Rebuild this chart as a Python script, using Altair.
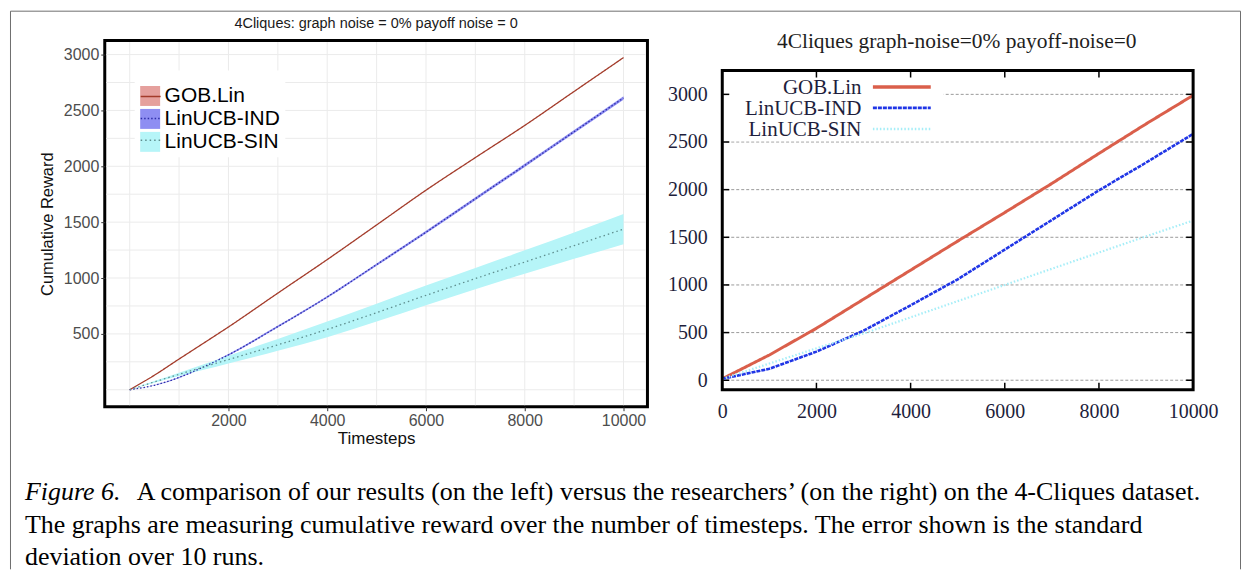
import altair as alt
import pandas as pd

SERIES = ["GOB.Lin", "LinUCB-IND", "LinUCB-SIN"]

# ---------------- left panel (our results: mean and std over 10 runs) ----------------
LEFT_STEPS = [0, 500, 1000, 1500, 2000, 3000, 4000, 5000, 6000, 7000, 8000, 9000, 10000]
LEFT_GOB = [0, 130, 275, 418, 562, 865, 1165, 1475, 1786, 2078, 2366, 2670, 2973]
LEFT_IND = [0, 40, 110, 205, 312, 565, 830, 1120, 1410, 1710, 2008, 2310, 2612]
LEFT_SIN = [0, 70, 138, 204, 270, 402, 540, 690, 845, 995, 1143, 1290, 1438]
LEFT_GOB_SD = [0, 0, 0, 0, 0, 0, 0, 0, 0, 0, 0, 0, 0]
LEFT_IND_SD = [0, 3, 5, 6, 7, 9, 10, 11, 12, 13, 14, 15, 16]
LEFT_SIN_SD = [0, 8, 15, 25, 35, 52, 70, 80, 88, 95, 105, 118, 135]

LEFT_TITLE = "4Cliques: graph noise = 0% payoff noise = 0"
LEFT_X_LABELS = [2000, 4000, 6000, 8000, 10000]
LEFT_Y_LABELS = [500, 1000, 1500, 2000, 2500, 3000]
LEFT_X_GRID = [0, 1000, 2000, 3000, 4000, 5000, 6000, 7000, 8000, 9000, 10000]
LEFT_Y_GRID = [0, 250, 500, 750, 1000, 1250, 1500, 1750, 2000, 2250, 2500, 2750, 3000]
LEFT_BAND_COLORS = ["#E5A09D", "#8E8EF2", "#B6F5F8"]
LEFT_LINE_COLORS = ["#A33B2A", "#2E2EA8", "#5E8E8E"]
LEFT_LINE_DASH = [[1, 0], [1.5, 2], [1.5, 3]]

# ---------------- right panel (researchers' results) ----------------
RIGHT_STEPS = [0, 1000, 2000, 3000, 4000, 5000, 6000, 7000, 8000, 9000, 10000]
RIGHT_GOB = [15, 265, 545, 850, 1155, 1460, 1760, 2065, 2380, 2690, 2990]
RIGHT_IND = [15, 120, 300, 520, 786, 1059, 1371, 1682, 1993, 2284, 2585]
RIGHT_SIN = [15, 175, 335, 490, 660, 830, 1000, 1170, 1340, 1510, 1676]

RIGHT_TITLE = "4Cliques graph-noise=0% payoff-noise=0"
RIGHT_X_LABELS = [0, 2000, 4000, 6000, 8000, 10000]
RIGHT_Y_LABELS = [0, 500, 1000, 1500, 2000, 2500, 3000]
RIGHT_X_TICKS = [2000, 4000, 6000, 8000]
RIGHT_LINE_COLORS = ["#DA5F4B", "#2036E6", "#A6EEF8"]
RIGHT_LINE_DASH = [[1, 0], [4, 1], [1.5, 2]]
RIGHT_LINE_WIDTH = [3, 2.2, 2]

CAPTION_LEAD = "Figure 6."
CAPTION_LINE1 = "A comparison of our results (on the left) versus the researchers\u2019 (on the right) on the 4-Cliques dataset."
CAPTION_LINE2 = "The graphs are measuring cumulative reward over the number of timesteps.  The error shown is the standard"
CAPTION_LINE3 = "deviation over 10 runs."

# ---------------- tables ----------------
rows = []
for name, vals, sds in zip(SERIES, [LEFT_GOB, LEFT_IND, LEFT_SIN], [LEFT_GOB_SD, LEFT_IND_SD, LEFT_SIN_SD]):
    for s, v, d in zip(LEFT_STEPS, vals, sds):
        rows.append({"step": s, "value": v, "lo": v - d, "hi": v + d, "series": name, "series_l": name})
left_df = pd.DataFrame(rows)

rrows = []
for name, vals in zip(SERIES, [RIGHT_GOB, RIGHT_IND, RIGHT_SIN]):
    for s, v in zip(RIGHT_STEPS, vals):
        rrows.append({"step": s, "value": v, "series_r": name})
right_df = pd.DataFrame(rrows)

one = pd.DataFrame({"k": [0]})

# ---------------- left chart ----------------
LW, LH = 544, 367
lx = alt.Scale(domain=[-505, 10485], nice=False, zero=False)
ly = alt.Scale(domain=[-152, 3125], nice=False, zero=False)
SANS = "Liberation Sans"
SERIF = "Liberation Serif"

lx_axis = alt.Axis(values=LEFT_X_LABELS, format="d", title="Timesteps", grid=False, domain=False,
                   tickColor="#333333", tickSize=4, tickWidth=1,
                   labelFont=SANS, labelFontSize=16, labelColor="#4D4D4D", labelPadding=2,
                   labelFlush=False, labelOverlap=False,
                   titleFont=SANS, titleFontSize=17, titleFontWeight="normal", titleColor="#111111",
                   titlePadding=2)
ly_axis = alt.Axis(values=LEFT_Y_LABELS, format="d", title="Cumulative Reward", grid=False, domain=False,
                   tickColor="#333333", tickSize=4, tickWidth=1,
                   labelFont=SANS, labelFontSize=16, labelColor="#4D4D4D", labelPadding=2,
                   labelFlush=False, labelOverlap=False,
                   titleFont=SANS, titleFontSize=16.5, titleFontWeight="normal", titleColor="#111111",
                   titlePadding=8)

fill_legend = alt.Legend(title=" ", titleFontSize=1, titlePadding=9, orient="top-left", offset=30,
                         padding=5, fillColor="white", symbolType="square", symbolSize=400,
                         symbolStrokeWidth=0, labelFont=SANS, labelFontSize=21,
                         labelColor="black", labelOffset=4, rowPadding=1, zindex=1)
line_legend = alt.Legend(title=" ", titleFontSize=1, titlePadding=9, orient="none", legendX=30, legendY=30,
                         padding=5, symbolType="stroke", symbolSize=400, symbolStrokeWidth=1.5,
                         labelFont=SANS, labelFontSize=21, labelColor="transparent",
                         labelOffset=4, rowPadding=1, zindex=2)

xgrid = alt.Chart(pd.DataFrame({"g": LEFT_X_GRID})).mark_rule(color="#EBEBEB", strokeWidth=1).encode(
    x=alt.X("g:Q", scale=lx, axis=lx_axis), y=alt.value(1.5), y2=alt.value(LH - 1.5))
ygrid = alt.Chart(pd.DataFrame({"g": LEFT_Y_GRID})).mark_rule(color="#EBEBEB", strokeWidth=1).encode(
    y=alt.Y("g:Q", scale=ly, axis=ly_axis), x=alt.value(1.5), x2=alt.value(LW - 1.5))
band = alt.Chart(left_df).mark_area(interpolate="monotone").encode(
    x=alt.X("step:Q", scale=lx, axis=lx_axis),
    y=alt.Y("lo:Q", scale=ly, axis=ly_axis),
    y2="hi:Q",
    fill=alt.Fill("series:N", scale=alt.Scale(domain=SERIES, range=LEFT_BAND_COLORS), legend=fill_legend),
)
lline = alt.Chart(left_df).mark_line(interpolate="monotone", strokeWidth=1.3).encode(
    x=alt.X("step:Q", scale=lx, axis=lx_axis),
    y=alt.Y("value:Q", scale=ly, axis=ly_axis),
    stroke=alt.Stroke("series_l:N", scale=alt.Scale(range=LEFT_LINE_COLORS), legend=line_legend),
    strokeDash=alt.StrokeDash("series_l:N", scale=alt.Scale(range=LEFT_LINE_DASH), legend=line_legend),
)
ltitle = alt.Chart(pd.DataFrame({"t": [LEFT_TITLE]})).mark_text(
    font=SANS, fontSize=14.5, color="#1A1A1A", align="center", baseline="alphabetic").encode(
    text="t:N", x=alt.value(LW / 2), y=alt.value(-12.5))

# caption text and the figure's outer frame (positions relative to the left plot)
CFS = 26
cap_lead = alt.Chart(pd.DataFrame({"t": [CAPTION_LEAD]})).mark_text(
    font=SERIF, fontSize=CFS, fontStyle="italic", color="black", align="left", baseline="alphabetic").encode(
    text="t:N", x=alt.value(-80), y=alt.value(461))
cap_1 = alt.Chart(pd.DataFrame({"t": [CAPTION_LINE1]})).mark_text(
    font=SERIF, fontSize=CFS, color="black", align="left", baseline="alphabetic").encode(
    text="t:N", x=alt.value(32), y=alt.value(461))
cap_2 = alt.Chart(pd.DataFrame({"t": [CAPTION_LINE2]})).mark_text(
    font=SERIF, fontSize=CFS, color="black", align="left", baseline="alphabetic").encode(
    text="t:N", x=alt.value(-80), y=alt.value(494))
cap_3 = alt.Chart(pd.DataFrame({"t": [CAPTION_LINE3]})).mark_text(
    font=SERIF, fontSize=CFS, color="black", align="left", baseline="alphabetic").encode(
    text="t:N", x=alt.value(-80), y=alt.value(526))
frame_l = alt.Chart(one).mark_rule(color="#6E6E6E", strokeWidth=1).encode(
    x=alt.value(-94.5), y=alt.value(-29.5), y2=alt.value(530))
frame_t = alt.Chart(one).mark_rule(color="#6E6E6E", strokeWidth=1).encode(
    x=alt.value(-94.5), x2=alt.value(1138.5), y=alt.value(-29.5))
frame_r = alt.Chart(one).mark_rule(color="#6E6E6E", strokeWidth=1).encode(
    x=alt.value(1138.5), y=alt.value(-29.5), y2=alt.value(530))

left = alt.layer(xgrid, ygrid, band, lline, ltitle, frame_l, frame_t, frame_r,
                 cap_lead, cap_1, cap_2, cap_3).properties(
    width=LW, height=LH,
    view=alt.ViewBackground(stroke="black", strokeWidth=3),
)

# ---------------- right chart ----------------
RW, RH = 472, 350      # view starts 30px above the framed plot, which holds the title
FT = 30                # top of the framed plot inside the view
TXT = "#1E1E3C"
rx = alt.Scale(domain=[0, 10000], nice=False, zero=False)
ry = alt.Scale(domain=[-100, 3564.1], nice=False, zero=False)
rx_axis = alt.Axis(values=RIGHT_X_LABELS, format="d", title=None, grid=False, domain=False, ticks=False,
                   labelFont=SERIF, labelFontSize=20, labelColor=TXT, labelPadding=12,
                   labelFlush=False, labelOverlap=False)
ry_axis = alt.Axis(values=RIGHT_Y_LABELS, format="d", title=None, grid=False, domain=False, ticks=False,
                   labelFont=SERIF, labelFontSize=20, labelColor=TXT, labelPadding=15,
                   labelFlush=False, labelOverlap=False)

rgrid = alt.Chart(pd.DataFrame({"g": RIGHT_Y_LABELS})).mark_rule(
    color="#9A9A9A", strokeWidth=1, strokeDash=[3, 2]).encode(
    y=alt.Y("g:Q", scale=ry, axis=ry_axis))
rwhite = alt.Chart(one).mark_rect(color="white").encode(
    x=alt.value(2), x2=alt.value(222), y=alt.value(FT + 2), y2=alt.value(FT + 71))
tick_top = alt.Chart(pd.DataFrame({"t": RIGHT_X_TICKS})).mark_rule(color="black", strokeWidth=1.5).encode(
    x=alt.X("t:Q", scale=rx, axis=rx_axis), y=alt.value(FT + 1), y2=alt.value(FT + 7))
tick_bot = alt.Chart(pd.DataFrame({"t": RIGHT_X_TICKS})).mark_rule(color="black", strokeWidth=1.5).encode(
    x=alt.X("t:Q", scale=rx, axis=rx_axis), y=alt.value(RH - 7), y2=alt.value(RH - 1))
tick_l = alt.Chart(pd.DataFrame({"t": RIGHT_Y_LABELS})).mark_rule(color="black", strokeWidth=1.5).encode(
    y=alt.Y("t:Q", scale=ry, axis=ry_axis), x=alt.value(1), x2=alt.value(7))
tick_r = alt.Chart(pd.DataFrame({"t": RIGHT_Y_LABELS})).mark_rule(color="black", strokeWidth=1.5).encode(
    y=alt.Y("t:Q", scale=ry, axis=ry_axis), x=alt.value(RW - 7), x2=alt.value(RW - 1))
rframe = alt.Chart(one).mark_rect(filled=False, stroke="black", strokeWidth=3).encode(
    x=alt.value(0), x2=alt.value(RW), y=alt.value(FT), y2=alt.value(RH))
rline = alt.Chart(right_df).mark_line().encode(
    x=alt.X("step:Q", scale=rx, axis=rx_axis),
    y=alt.Y("value:Q", scale=ry, axis=ry_axis),
    stroke=alt.Stroke("series_r:N", scale=alt.Scale(domain=SERIES, range=RIGHT_LINE_COLORS), legend=None),
    strokeDash=alt.StrokeDash("series_r:N", scale=alt.Scale(domain=SERIES, range=RIGHT_LINE_DASH), legend=None),
    strokeWidth=alt.StrokeWidth("series_r:N", scale=alt.Scale(domain=SERIES, range=RIGHT_LINE_WIDTH), legend=None),
)
rtitle = alt.Chart(pd.DataFrame({"t": [RIGHT_TITLE]})).mark_text(
    font=SERIF, fontSize=21.5, color="#1E1E1E", align="center", baseline="alphabetic").encode(
    text="t:N", x=alt.value(235), y=alt.value(7))

rlayers = [rgrid, rwhite, tick_top, tick_bot, tick_l, tick_r, rline, rframe, rtitle]
for i, name in enumerate(SERIES):
    rowdf = pd.DataFrame({"series": [name]})
    rlayers.append(alt.Chart(rowdf).mark_text(font=SERIF, fontSize=21, color=TXT, align="right",
                                              baseline="alphabetic").encode(
        text="series:N", x=alt.value(139.5), y=alt.value(FT + 24 + 21 * i)))
    rlayers.append(alt.Chart(rowdf).mark_rule(color=RIGHT_LINE_COLORS[i], strokeDash=RIGHT_LINE_DASH[i],
                                              strokeWidth=RIGHT_LINE_WIDTH[i] + 0.5).encode(
        x=alt.value(151), x2=alt.value(209), y=alt.value(FT + 16.5 + 21 * i)))
right = alt.layer(*rlayers).properties(
    width=RW, height=RH, view=alt.ViewBackground(stroke="transparent"))

chart = alt.hconcat(left, right, spacing=75, bounds="flush", padding=0).resolve_scale(
    stroke="independent", strokeDash="independent", strokeWidth="independent", fill="independent")

chart.save("out.html", embed_options={"renderer": "svg", "actions": False})
